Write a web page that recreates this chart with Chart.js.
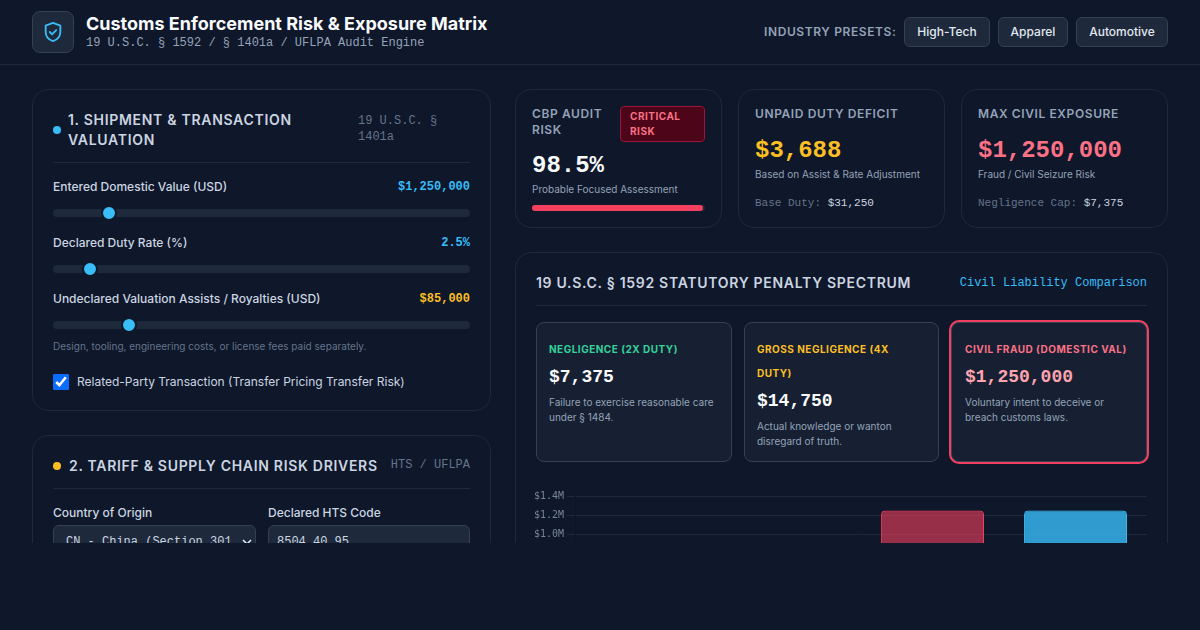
<!DOCTYPE html>
<html lang="en"><head><meta charset="utf-8"><title>Customs Enforcement Risk & Exposure Matrix</title>
<script src="https://cdn.jsdelivr.net/npm/chart.js@4/dist/chart.umd.js"></script>
<style>
*{box-sizing:border-box;margin:0;padding:0}
html,body{width:1200px;height:630px;overflow:hidden;background:#0f172a;font-family:Inter,sans-serif;color:#e2e8f0}
#clip{position:absolute;left:0;top:0;width:1200px;height:543px;overflow:hidden}
#clip>*{position:absolute}
.t{white-space:nowrap;line-height:20px;height:20px}
.m{font-family:"Liberation Mono",monospace}
.b{font-weight:700}
.card{border:1px solid #1e293b;border-radius:16px}
.line{height:1px;background:#1e293b}
.lbl{font-size:12px;font-weight:600;letter-spacing:.6px;color:#94a3b8}
.head{font-size:14px;font-weight:600;letter-spacing:.7px;color:#cbd5e1}
.fld{font-size:12px;font-weight:500;color:#cbd5e1}
.sub{font-size:10px;color:#94a3b8}
.btn{height:30px;top:17px;border:1px solid #334155;border-radius:6px;background:#1e293b;color:#e2e8f0;font:500 12px Inter,sans-serif;text-align:center;line-height:28px}
input[type=range]{-webkit-appearance:none;appearance:none;left:53px;width:417px;height:8px;border-radius:4px;background:#1e293b;outline:none;margin:0}
input[type=range]::-webkit-slider-thumb{-webkit-appearance:none;box-sizing:border-box;width:16px;height:16px;border-radius:50%;background:#38bdf8;border:2px solid #0f172a}
.dot{width:8px;height:8px;border-radius:50%}
.pc{top:322px;height:140px;border:1px solid #334155;border-radius:8px;background:#162032}
.pl{font-size:10px;font-weight:700;letter-spacing:.5px}
.pv{font-size:18px;font-weight:700;font-family:"Liberation Mono",monospace}
.pd{font-size:10px;color:#94a3b8}
.field{top:525px;height:38px;border:1px solid #334155;border-radius:6px;background:#1e293b}
</style></head><body>
<div id="clip">
  <div class="line" style="left:0;top:64px;width:1200px"></div>
  <div style="left:32px;top:11px;width:42px;height:42px;border-radius:8px;background:#1e293b;border:1px solid #334155"></div>
  <svg style="left:42px;top:21px" width="22" height="22" viewBox="0 0 24 24" fill="none" stroke="#38bdf8" stroke-width="2" stroke-linecap="round" stroke-linejoin="round"><path d="M12 2 L20 5 V12 C20 17 16.5 20.5 12 22 C7.5 20.5 4 17 4 12 V5 Z"/><path d="M8.5 12 L11 14.5 L15.5 10"/></svg>
  <div class="t b" style="left:86px;top:14px;font-size:18px;color:#f8fafc">Customs Enforcement Risk &amp; Exposure Matrix</div>
  <div class="t m" style="left:86px;top:33px;font-size:12px;color:#94a3b8">19 U.S.C. § 1592 / § 1401a / UFLPA Audit Engine</div>
  <div class="t lbl" style="left:764px;top:22px">INDUSTRY PRESETS:</div>
  <div class="btn" style="left:904px;width:86px">High-Tech</div>
  <div class="btn" style="left:998px;width:70px">Apparel</div>
  <div class="btn" style="left:1076px;width:92px">Automotive</div>

  <div class="card" style="left:32px;top:89px;width:459px;height:322px"></div>
  <div class="dot" style="left:53px;top:126px;background:#38bdf8"></div>
  <div class="t head" style="left:68px;top:110px">1. SHIPMENT &amp; TRANSACTION</div>
  <div class="t head" style="left:68px;top:130px">VALUATION</div>
  <div class="t m" style="left:358px;top:111px;font-size:12px;color:#64748b">19 U.S.C. §</div>
  <div class="t m" style="left:358px;top:127px;font-size:12px;color:#64748b">1401a</div>
  <div class="line" style="left:53px;top:162px;width:417px"></div>
  <div class="t fld" style="left:53px;top:177px">Entered Domestic Value (USD)</div>
  <div class="t m b" style="right:730px;top:177px;font-size:12px;color:#38bdf8">$1,250,000</div>
  <input type="range" style="top:209px" min="50000" max="10000000" value="1250000">
  <div class="t fld" style="left:53px;top:233px">Declared Duty Rate (%)</div>
  <div class="t m b" style="right:730px;top:233px;font-size:12px;color:#38bdf8">2.5%</div>
  <input type="range" style="top:265px" min="0" max="35" step="0.1" value="2.5">
  <div class="t fld" style="left:53px;top:289px">Undeclared Valuation Assists / Royalties (USD)</div>
  <div class="t m b" style="right:730px;top:289px;font-size:12px;color:#fbbf24">$85,000</div>
  <input type="range" style="top:321px" min="0" max="500000" value="85000">
  <div class="t" style="left:53px;top:336px;font-size:10px;color:#64748b">Design, tooling, engineering costs, or license fees paid separately.</div>
  <input type="checkbox" checked style="left:53px;top:374px;width:16px;height:16px;accent-color:#0a6cff">
  <div class="t fld" style="left:77px;top:372px;font-weight:400">Related-Party Transaction (Transfer Pricing Transfer Risk)</div>

  <div class="card" style="left:32px;top:435px;width:459px;height:300px"></div>
  <div class="dot" style="left:53px;top:462px;background:#fbbf24"></div>
  <div class="t head" style="left:69px;top:456px">2. TARIFF &amp; SUPPLY CHAIN RISK DRIVERS</div>
  <div class="t m" style="right:730px;top:455px;font-size:12px;color:#64748b">HTS / UFLPA</div>
  <div class="line" style="left:53px;top:488px;width:417px"></div>
  <div class="t fld" style="left:53px;top:503px">Country of Origin</div>
  <div class="t fld" style="left:268px;top:503px">Declared HTS Code</div>
  <div class="field" style="left:53px;width:203px"></div>
  <div class="field" style="left:268px;width:202px"></div>
  <div class="t m" style="left:66px;top:532px;font-size:12px;color:#cbd5e1">CN - China (Section 301</div>
  <svg style="left:242px;top:539px" width="10" height="6" viewBox="0 0 10 6" fill="none" stroke="#e2e8f0" stroke-width="1.6"><path d="M1 1 L5 5 L9 1"/></svg>
  <div class="t m" style="left:277px;top:532px;font-size:12px;color:#cbd5e1">8504.40.95</div>

  <div class="card" style="left:515px;top:89px;width:207px;height:139px"></div>
  <div class="t lbl" style="left:532px;top:104px">CBP AUDIT</div>
  <div class="t lbl" style="left:532px;top:120px">RISK</div>
  <div style="left:620px;top:106px;width:85px;height:36px;background:#4c0519;border:1px solid #9f1239;border-radius:4px"></div>
  <div class="t pl" style="left:630px;top:106px;color:#fb7185">CRITICAL</div>
  <div class="t pl" style="left:630px;top:121px;color:#fb7185">RISK</div>
  <div class="t m b" style="left:532px;top:156px;font-size:24px;color:#f8fafc">98.5%</div>
  <div class="t sub" style="left:532px;top:179px">Probable Focused Assessment</div>
  <div style="left:532px;top:205px;width:173px;height:6px;border-radius:3px;background:#1e293b"></div>
  <div style="left:532px;top:205px;width:171px;height:6px;border-radius:3px;background:#f43f5e"></div>

  <div class="card" style="left:738px;top:89px;width:207px;height:139px"></div>
  <div class="t lbl" style="left:755px;top:104px">UNPAID DUTY DEFICIT</div>
  <div class="t m b" style="left:755px;top:141px;font-size:24px;color:#fbbf24">$3,688</div>
  <div class="t sub" style="left:755px;top:164px">Based on Assist &amp; Rate Adjustment</div>
  <div class="t m" style="left:755px;top:193px;font-size:11px;color:#64748b">Base Duty: <span style="color:#cbd5e1">$31,250</span></div>

  <div class="card" style="left:961px;top:89px;width:207px;height:139px"></div>
  <div class="t lbl" style="left:978px;top:104px">MAX CIVIL EXPOSURE</div>
  <div class="t m b" style="left:978px;top:141px;font-size:24px;color:#fb7185">$1,250,000</div>
  <div class="t sub" style="left:978px;top:164px">Fraud / Civil Seizure Risk</div>
  <div class="t m" style="left:978px;top:193px;font-size:11px;color:#64748b">Negligence Cap: <span style="color:#cbd5e1">$7,375</span></div>

  <div class="card" style="left:515px;top:252px;width:653px;height:460px"></div>
  <div class="t head" style="left:536px;top:273px">19 U.S.C. § 1592 STATUTORY PENALTY SPECTRUM</div>
  <div class="t m" style="right:53px;top:273px;font-size:12px;color:#38bdf8">Civil Liability Comparison</div>
  <div class="line" style="left:536px;top:305px;width:611px"></div>

  <div class="pc" style="left:536px;width:196px"></div>
  <div class="t pl" style="left:549px;top:339px;color:#34d399">NEGLIGENCE (2X DUTY)</div>
  <div class="t pv" style="left:549px;top:367px;color:#f8fafc">$7,375</div>
  <div class="t pd" style="left:549px;top:392px">Failure to exercise reasonable care</div>
  <div class="t pd" style="left:549px;top:407px">under § 1484.</div>

  <div class="pc" style="left:744px;width:195px"></div>
  <div class="t pl" style="left:757px;top:339px;color:#fbbf24">GROSS NEGLIGENCE (4X</div>
  <div class="t pl" style="left:757px;top:363px;color:#fbbf24">DUTY)</div>
  <div class="t pv" style="left:757px;top:391px;color:#f8fafc">$14,750</div>
  <div class="t pd" style="left:757px;top:416px">Actual knowledge or wanton</div>
  <div class="t pd" style="left:757px;top:431px">disregard of truth.</div>

  <div class="pc" style="left:951px;width:196px;box-shadow:0 0 0 2px #f43f5e"></div>
  <div class="t pl" style="left:965px;top:339px;color:#fb7185">CIVIL FRAUD (DOMESTIC VAL)</div>
  <div class="t pv" style="left:965px;top:367px;color:#fda4af">$1,250,000</div>
  <div class="t pd" style="left:965px;top:392px">Voluntary intent to deceive or</div>
  <div class="t pd" style="left:965px;top:407px">breach customs laws.</div>

  <div style="left:531px;top:487px;width:616px;height:171px"><canvas id="chart"></canvas></div>
</div>
<script>
const categories = ["Negligence", "Gross Negligence", "Civil Fraud", "Domestic Value"];
const penaltyValues = [7375, 14750, 1250000, 1250000];
const barFills = ["rgba(52,211,153,0.6)", "rgba(251,191,36,0.6)", "rgba(244,63,94,0.6)", "rgba(56,189,248,0.8)"];
const barBorders = ["#34d399", "#fbbf24", "#f43f5e", "#38bdf8"];

Chart.defaults.animation = false;
new Chart(document.getElementById("chart"), {
  type: "bar",
  data: { labels: categories, datasets: [{ data: penaltyValues, backgroundColor: barFills, borderColor: barBorders, borderWidth: 1, borderRadius: 4 }] },
  options: {
    responsive: true, maintainAspectRatio: false,
    plugins: { legend: { display: false }, tooltip: { enabled: false } },
    scales: {
      x: { grid: { display: false }, ticks: { color: "#94a3b8", font: { family: "DejaVu Sans Mono", size: 10 } } },
      y: { beginAtZero: true, grid: { color: "#1e293b" },
           ticks: { color: "#75859b", font: { family: "DejaVu Sans Mono", size: 10 }, callback: v => "$" + (v / 1e6).toFixed(1) + "M" } }
    }
  }
});
</script>
</body></html>
